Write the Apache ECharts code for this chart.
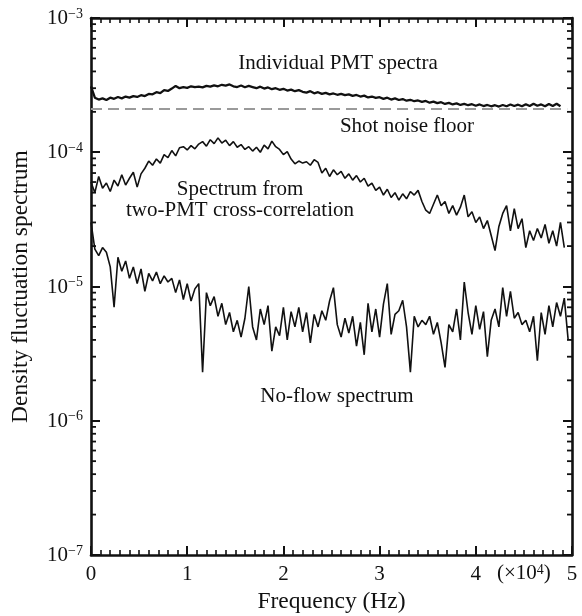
<!DOCTYPE html>
<html>
<head>
<meta charset="utf-8">
<script src="https://cdn.jsdelivr.net/npm/echarts@6/dist/echarts.min.js"></script>
<style>
html,body{margin:0;padding:0;background:#fff;}
#chart{width:582px;height:616px;}
</style>
</head>
<body>
<div id="chart"></div>
<script>
// ---- data ----
const freqStep = 0.04;            // x10^4 Hz between samples
const xTickLabels = ['0','1','2','3','4','5'];
const shotNoiseFloor = 2.1e-4;
const shotNoiseRange = [0, 4.95];

// Individual PMT spectra (units of 1e-4)
const pmtUnit = 1e-4;
const pmtSpectra = [3.10,2.55,2.47,2.52,2.45,2.55,2.50,2.58,2.52,2.60,2.55,2.62,2.58,2.66,2.62,2.72,2.70,2.80,2.76,2.90,
2.86,2.98,3.12,3.00,3.06,3.02,3.10,3.05,3.08,3.04,3.12,3.08,3.15,3.10,3.18,3.14,3.20,3.10,3.06,3.14,
3.05,3.12,3.06,3.00,3.08,2.98,3.04,2.95,3.00,2.92,2.97,2.88,2.93,2.85,2.90,2.82,2.78,2.85,2.75,2.80,
2.72,2.77,2.70,2.74,2.68,2.72,2.66,2.70,2.63,2.67,2.60,2.64,2.56,2.60,2.54,2.57,2.50,2.55,2.47,2.52,
2.45,2.49,2.42,2.46,2.40,2.43,2.37,2.41,2.34,2.38,2.32,2.36,2.29,2.33,2.27,2.31,2.25,2.29,2.24,2.28,
2.22,2.27,2.21,2.25,2.20,2.24,2.19,2.25,2.20,2.27,2.21,2.26,2.20,2.28,2.21,2.30,2.22,2.27,2.20,2.29,
2.21,2.30,2.20];

// Spectrum from two-PMT cross-correlation (units of 1e-5)
const crossUnit = 1e-5;
const crossSpectrum = [6.0,5.0,6.6,5.4,5.9,5.1,6.2,5.6,6.8,5.7,6.4,7.1,5.5,6.9,7.6,8.6,8.0,8.9,8.3,9.6,
9.1,10.3,9.4,10.8,11.0,10.4,11.2,10.6,11.5,12.0,11.1,12.4,11.6,12.8,11.7,12.3,11.2,12.0,10.9,11.4,
10.5,11.0,10.2,10.9,10.0,11.3,10.6,12.1,11.0,10.5,9.6,10.1,8.9,8.2,8.6,8.3,8.5,8.0,8.8,8.4,
7.0,7.6,6.6,7.4,6.8,7.2,6.4,6.9,6.2,6.7,6.0,6.4,5.6,5.9,5.2,5.5,4.8,5.3,4.6,5.0,
4.4,4.9,4.5,5.1,4.8,5.2,4.3,3.7,3.5,4.1,4.8,4.0,4.3,3.5,4.0,3.4,3.9,4.8,3.3,3.6,
3.0,3.3,2.7,3.1,2.4,1.85,2.8,3.5,4.0,2.6,3.8,2.7,3.2,1.95,2.6,2.2,2.7,2.3,2.9,2.1,
2.6,2.0,3.0,1.95];

// No-flow spectrum (units of 1e-6)
const noFlowUnit = 1e-6;
const noFlowSpectrum = [30,19,17,19.5,18,14,7.0,16.5,13,15.5,11.5,14,10.5,13.5,9.2,12.5,11,12.8,10.5,12,
10.8,11.5,9.0,11.2,8.0,10.5,7.8,9.6,10.5,2.3,9.0,7.2,8.4,6.0,7.5,5.2,6.4,4.6,5.6,4.2,
5.8,10.0,5.0,4.0,6.8,5.2,7.2,3.3,5.0,4.3,7.0,4.0,6.5,5.0,7.0,4.6,6.4,3.8,6.2,5.0,
6.6,5.6,7.8,9.8,5.2,4.2,5.8,4.5,6.0,3.6,5.4,3.1,7.5,4.6,6.8,4.2,7.4,10.5,4.4,6.2,
6.6,7.9,5.0,2.3,6.0,5.0,5.6,5.2,6.0,4.4,5.4,3.8,2.5,5.2,4.6,6.8,4.0,10.8,6.4,4.4,
7.2,4.8,6.5,3.0,5.6,6.8,5.0,9.8,6.0,9.2,5.8,6.4,5.2,5.6,4.6,6.0,2.8,6.4,4.4,7.2,
5.0,7.6,6.0,8.2,4.0];

const logDecades = [-7,-6,-5,-4];
const minorMantissas = [2,3,4,5,6,7,8,9];

// ---- build ----
function toPairs(arr, unit){ return arr.map((v,i)=>[+(i*freqStep).toFixed(3), v*unit]); }

const FONT = '"Liberation Serif","DejaVu Serif",serif';
const INK = '#111';

const chart = echarts.init(document.getElementById('chart'), null, {renderer:'canvas'});

function xAxisCfg(pos, showLabel){
  return {
    type:'value', position:pos, min:0, max:5, interval:1,
    axisLine:{show:true, onZero:false, lineStyle:{color:INK, width:2.6}},
    axisTick:{show:true, inside:true, length:9, lineStyle:{color:INK, width:2}},
    minorTick:{show:true, splitNumber:10, length:5, lineStyle:{color:INK, width:1.6}},
    splitLine:{show:false}, minorSplitLine:{show:false},
    axisLabel:{show:showLabel, margin:9, color:INK, fontFamily:FONT, fontSize:21,
      formatter:(v)=>xTickLabels[Math.round(v)]}
  };
}
function yAxisCfg(pos, showLabel){
  return {
    type:'log', logBase:10, position:pos, min:1e-7, max:1e-3,
    axisLine:{show:true, onZero:false, lineStyle:{color:INK, width:2.6}},
    axisTick:{show:true, inside:true, length:9, lineStyle:{color:INK, width:2}},
    minorTick:{show:false},
    splitLine:{show:false},
    axisLabel:{show:showLabel, margin:8, color:INK, fontFamily:FONT,
      formatter:(v)=>{const e=Math.round(Math.log10(v)); return '{b|10}{s|\u2212'+Math.abs(e)+'}';},
      rich:{
        b:{fontFamily:FONT, fontSize:21, color:INK, lineHeight:22, verticalAlign:'bottom'},
        s:{fontFamily:FONT, fontSize:14, color:INK, lineHeight:14, verticalAlign:'top'}
      }}
  };
}

const xa = xAxisCfg('bottom', true);
xa.name = 'Frequency (Hz)'; xa.nameLocation = 'middle'; xa.nameGap = 34;
xa.nameTextStyle = {fontFamily:FONT, fontSize:23.5, color:INK};
const ya = yAxisCfg('left', true);
ya.name = 'Density fluctuation spectrum'; ya.nameLocation = 'middle'; ya.nameGap = 58;
ya.nameTextStyle = {fontFamily:FONT, fontSize:23.5, color:INK};

const textGraphics = [
  {type:'text', left:497, top:563, style:{text:'(×10{s|4})', fontFamily:FONT, fontSize:21, fill:INK,
    rich:{s:{fontFamily:FONT, fontSize:14, verticalAlign:'top', lineHeight:14, fill:INK}}}},
  {type:'text', x:338, y:63, style:{text:'Individual PMT spectra', fontFamily:FONT, fontSize:21, fill:INK, align:'center', verticalAlign:'middle'}},
  {type:'text', x:407, y:126, style:{text:'Shot noise floor', fontFamily:FONT, fontSize:21, fill:INK, align:'center', verticalAlign:'middle'}},
  {type:'text', x:240, y:189, style:{text:'Spectrum from', fontFamily:FONT, fontSize:21, fill:INK, align:'center', verticalAlign:'middle'}},
  {type:'text', x:240, y:210, style:{text:'two-PMT cross-correlation', fontFamily:FONT, fontSize:21, fill:INK, align:'center', verticalAlign:'middle'}},
  {type:'text', x:337, y:396, style:{text:'No-flow spectrum', fontFamily:FONT, fontSize:21, fill:INK, align:'center', verticalAlign:'middle'}}
];

const option = {
  animation:false,
  backgroundColor:'#fff',
  grid:{left:91, right:10, top:18, bottom:61, containLabel:false, outerBoundsMode:'none'},
  xAxis:[xa, xAxisCfg('top', false)],
  yAxis:[ya, yAxisCfg('right', false)],
  series:[
    {type:'line', name:'Shot noise floor', data:[[shotNoiseRange[0],shotNoiseFloor],[shotNoiseRange[1],shotNoiseFloor]],
      showSymbol:false, symbol:'none', lineStyle:{color:'#9a9a9a', width:2.2, type:[11,6]}, z:2},
    {type:'line', name:'Individual PMT spectra', data:toPairs(pmtSpectra, pmtUnit), showSymbol:false, symbol:'none',
      lineStyle:{color:INK, width:2.3}, z:3},
    {type:'line', name:'Cross-correlation', data:toPairs(crossSpectrum, crossUnit), showSymbol:false, symbol:'none',
      lineStyle:{color:INK, width:1.6}, z:3},
    {type:'line', name:'No-flow', data:toPairs(noFlowSpectrum, noFlowUnit), showSymbol:false, symbol:'none',
      lineStyle:{color:INK, width:1.6}, z:3}
  ],
  graphic:textGraphics
};
chart.setOption(option);

// minor ticks of the log axes (2..9 per decade), placed through the axis scale
const xLeft = chart.convertToPixel({xAxisIndex:0}, 0);
const xRight = chart.convertToPixel({xAxisIndex:0}, 5);
const tickGraphics = [];
logDecades.forEach(k=>minorMantissas.forEach(m=>{
  const y = chart.convertToPixel({yAxisIndex:0}, m*Math.pow(10,k));
  tickGraphics.push({type:'line', z:100, shape:{x1:xLeft, y1:y, x2:xLeft+5, y2:y}, style:{stroke:INK, lineWidth:1.8}});
  tickGraphics.push({type:'line', z:100, shape:{x1:xRight, y1:y, x2:xRight-5, y2:y}, style:{stroke:INK, lineWidth:1.8}});
}));
chart.setOption({graphic: textGraphics.concat(tickGraphics)});
</script>
</body>
</html>
